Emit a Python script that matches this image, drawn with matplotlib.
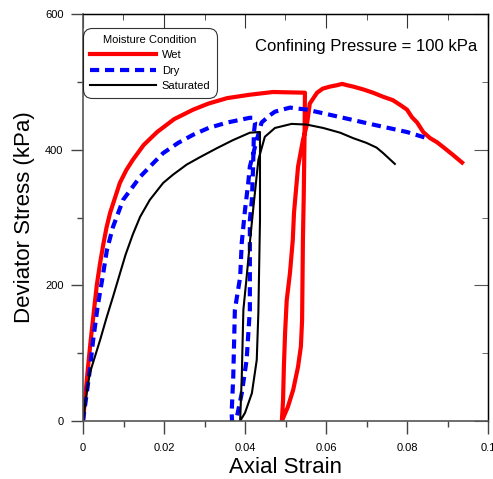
import matplotlib
matplotlib.use("Agg")
import matplotlib.pyplot as plt
from matplotlib.ticker import MultipleLocator, FixedLocator

plt.rcParams['font.family'] = ['Liberation Sans', 'DejaVu Sans']

# Wet: loading, unloading, reloading
wet_strain = [0, 0.0011, 0.0019, 0.0028, 0.0034, 0.0042, 0.0050, 0.0058, 0.0067, 0.0091, 0.0107, 0.0123,
              0.0150, 0.0183, 0.0225, 0.0272, 0.0310, 0.0356, 0.0412, 0.0469, 0.0548,
              0.0547, 0.0545, 0.0543, 0.0541, 0.0538, 0.0531, 0.0519, 0.0506, 0.0491,
              0.0494, 0.0496, 0.0499, 0.0503, 0.0511, 0.0518, 0.0521, 0.0531, 0.0543, 0.0553,
              0.0560, 0.0578, 0.0592, 0.0610, 0.0627, 0.0640, 0.0652, 0.0667, 0.0691, 0.0716,
              0.0741, 0.0765, 0.0783, 0.0800, 0.0812, 0.0825, 0.0840, 0.0857, 0.0874, 0.0889,
              0.0914, 0.0936]
wet_stress = [0, 71, 119, 168, 200, 232, 260, 285, 307, 351, 370, 385,
              407, 426, 445, 459, 468, 476, 481, 485, 484,
              420, 330, 267, 149, 110, 80, 46, 21, 0,
              31, 80, 130, 178, 218, 267, 307, 375, 414, 437,
              468, 484, 490, 493, 495, 497, 495, 493, 489, 484,
              478, 473, 466, 459, 448, 440, 426, 417, 411, 404,
              392, 381]

# Dry
dry_strain = [0, 0.0016, 0.0025, 0.0036, 0.0050, 0.0059, 0.0074, 0.0099, 0.0141, 0.0170, 0.0198,
              0.0235, 0.0272, 0.0310, 0.0356, 0.0412, 0.0420,
              0.0425, 0.0422, 0.0420, 0.0417, 0.0412, 0.0412, 0.0404, 0.0392, 0.0380, 0.0372,
              0.0368, 0.0367, 0.0371, 0.0375, 0.0388, 0.0392, 0.0400, 0.0408, 0.0412, 0.0429,
              0.0441, 0.0462, 0.0474, 0.0511, 0.0553, 0.0635, 0.0716, 0.0800, 0.0849]
dry_stress = [0, 71, 119, 168, 218, 252, 286, 326, 360, 378, 395,
              410, 422, 432, 440, 447, 447,
              440, 425, 375, 326, 296, 164, 90, 41, 6, 0,
              0, 12, 65, 164, 212, 263, 311, 351, 375, 414,
              440, 451, 456, 462, 459, 448, 437, 426, 417]

# Saturated
sat_strain = [0, 0.0009, 0.0017, 0.0042, 0.0058, 0.0074, 0.0090, 0.0105, 0.0123, 0.0141, 0.0165,
              0.0198, 0.0222, 0.0256, 0.0289, 0.0330, 0.0370, 0.0412, 0.0437,
              0.0437, 0.0433, 0.0429, 0.0417, 0.0400, 0.0388,
              0.0392, 0.0396, 0.0404, 0.0412, 0.0420, 0.0433, 0.0449, 0.0474, 0.0515, 0.0552,
              0.0593, 0.0635, 0.0667, 0.0700, 0.0725, 0.0741, 0.0770]
sat_stress = [0, 41, 71, 119, 152, 183, 215, 245, 275, 301, 326,
              351, 363, 378, 389, 402, 414, 425, 426,
              296, 160, 90, 41, 12, 0,
              65, 164, 212, 263, 311, 385, 419, 432, 438, 437,
              432, 425, 417, 410, 403, 395, 379]

x_ticks = [0, 0.02, 0.04, 0.06, 0.08, 0.1]
x_tick_labels = ["0", "0.02", "0.04", "0.06", "0.08", "0.1"]
y_ticks = [0, 200, 400, 600]
y_tick_labels = ["0", "200", "400", "600"]

fig = plt.figure(figsize=(4.93, 4.79), dpi=100)
ax = fig.add_axes([83/493, 1-421/479, (488-83)/493, (421-14)/479])

ax.plot(wet_strain, wet_stress, color='#ff0000', lw=3.0, label='Wet', solid_joinstyle='round')
ax.plot(dry_strain, dry_stress, color='#0000ff', lw=3.0, ls=(0, (2.2, 1.4)), label='Dry')
ax.plot(sat_strain, sat_stress, color='black', lw=1.5, label='Saturated', solid_joinstyle='round')

ax.set_xlim(0, 0.1)
ax.set_ylim(0, 600)
ax.xaxis.set_major_locator(FixedLocator(x_ticks))
ax.set_xticklabels(x_tick_labels)
ax.yaxis.set_major_locator(FixedLocator(y_ticks))
ax.set_yticklabels(y_tick_labels)
ax.xaxis.set_minor_locator(MultipleLocator(0.01))
ax.yaxis.set_minor_locator(MultipleLocator(100))

ax.tick_params(which='both', direction='out', labelsize=8, color='#444444', width=1.0)
ax.tick_params(which='major', length=9)
ax.tick_params(which='minor', length=4.3)
ax.tick_params(axis='x', pad=7)
ax.tick_params(axis='y', pad=5)

axt = ax.secondary_xaxis('top')
axt.xaxis.set_major_locator(FixedLocator(x_ticks))
axt.xaxis.set_minor_locator(MultipleLocator(0.01))
axt.tick_params(which='both', direction='in', labeltop=False, color='#333333')
axt.tick_params(which='major', length=10)
axt.tick_params(which='minor', length=4.5)
axr = ax.secondary_yaxis('right')
axr.yaxis.set_major_locator(FixedLocator(y_ticks))
axr.yaxis.set_minor_locator(MultipleLocator(100))
axr.tick_params(which='both', direction='in', labelright=False, color='#555555')
axr.tick_params(which='major', length=10)
axr.tick_params(which='minor', length=4.5)
axt.spines['top'].set_linewidth(1.0)
axr.spines['right'].set_linewidth(1.0)

for s in ['left', 'bottom']:
    ax.spines[s].set_color('#555555')
    ax.spines[s].set_linewidth(1.2)

ax.set_xlabel('Axial Strain', fontsize=16, labelpad=3)
ax.set_ylabel('Deviator Stress (kPa)', fontsize=16, labelpad=7)

ax.text(0.973, 0.921, 'Confining Pressure = 100 kPa', transform=ax.transAxes,
        ha='right', va='center', fontsize=12)

leg = ax.legend(title='Moisture Condition', loc='upper left', bbox_to_anchor=(0.0, 0.9656),
                fontsize=8, title_fontsize=8, frameon=True, fancybox=True,
                handlelength=6.0, handletextpad=0.5, borderpad=0.6, labelspacing=0.5,
                borderaxespad=0.0)
leg.get_frame().set_edgecolor('black')
leg.get_frame().set_linewidth(0.8)
leg.get_frame().set_boxstyle('round,pad=0.0,rounding_size=0.8')

fig.savefig('out.png', dpi=100)
